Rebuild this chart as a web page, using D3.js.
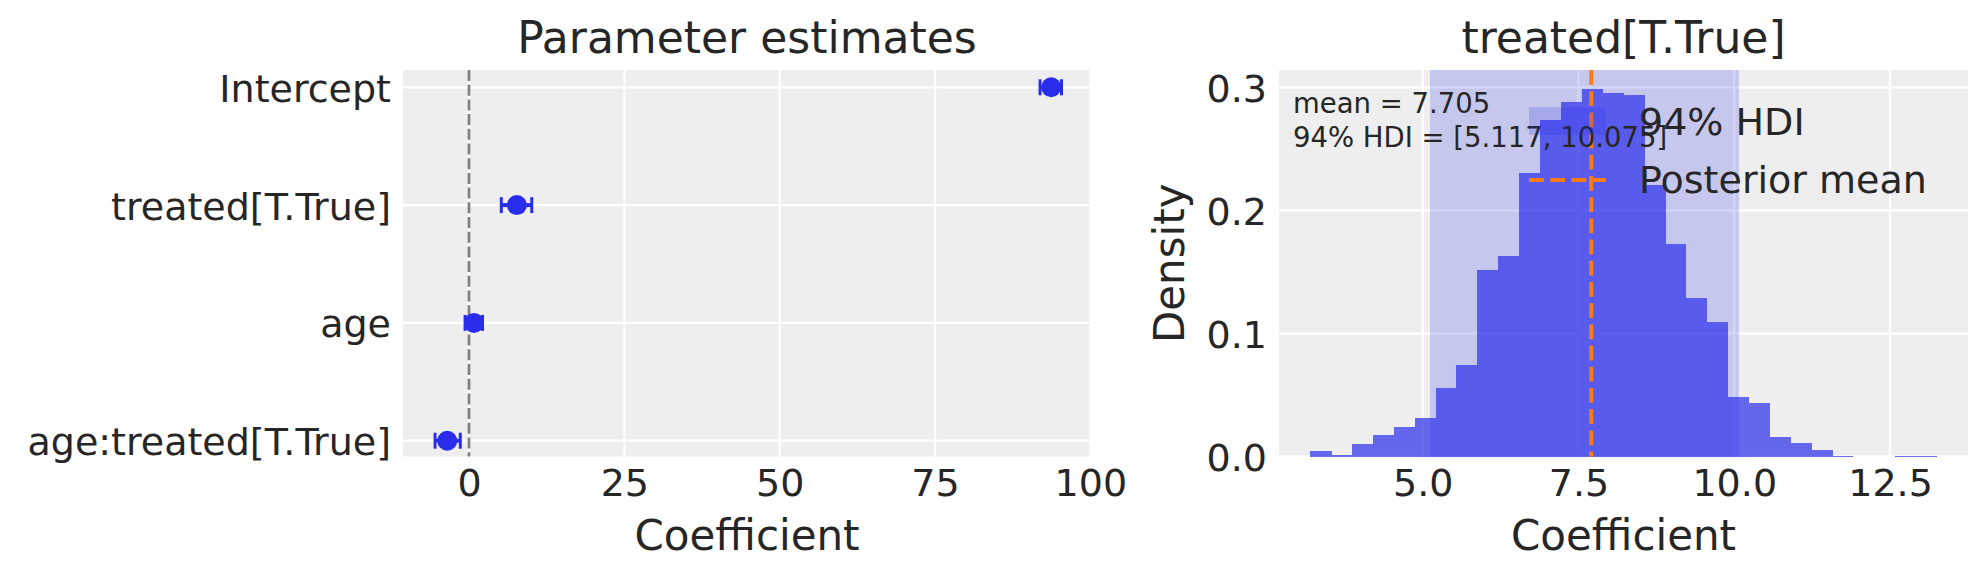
<!DOCTYPE html>
<html>
<head>
<meta charset="utf-8">
<script src="https://cdn.jsdelivr.net/npm/d3@7"></script>
<style>
  body { margin: 0; background: #fff; }
  svg { display: block; font-family: "DejaVu Sans", sans-serif; }
</style>
</head>
<body>
<div id="chart"></div>
<script>
// Forest plot values
var params = ["Intercept", "treated[T.True]", "age", "age:treated[T.True]"];
var paramMean = [93.7, 7.705, 0.8, -3.5];
var paramLow = [91.9, 5.2, -0.63, -5.46];
var paramHigh = [95.35, 10.1, 2.17, -1.4];
var forestTicks = [0, 25, 50, 75, 100];

// Posterior histogram for treated[T.True]
var binEdges = [3.195, 3.53, 3.865, 4.2, 4.535, 4.87, 5.205, 5.54, 5.875, 6.21, 6.545,
    6.88, 7.215, 7.55, 7.885, 8.22, 8.555, 8.89, 9.225, 9.56, 9.895,
    10.23, 10.565, 10.9, 11.235, 11.57, 11.905, 12.24, 12.575, 12.91, 13.245];
var binDensity = [0.0046, 0.0014, 0.0103, 0.0176, 0.0241, 0.0314, 0.0557, 0.0743, 0.1514, 0.1627,
    0.230, 0.2738, 0.2884, 0.2989, 0.2957, 0.294, 0.2203, 0.1724, 0.1286, 0.1092,
    0.0484, 0.0435, 0.0159, 0.0111, 0.0054, 0.0008, 0, 0, 0.0008, 0.0008];
var postMean = 7.705;
var hdi = [5.117, 10.075];
var histXTicks = [5.0, 7.5, 10.0, 12.5];
var histYTicks = [0.0, 0.1, 0.2, 0.3];

var C0 = "#2a2eec", C1 = "#fa7c17", textColor = "#262626", bg = "#eeeeee";

var W = 1988, H = 579;
var svg = d3.select("#chart").append("svg").attr("width", W).attr("height", H);

// ---------- left panel: parameter estimates ----------
var L = {x0: 403, x1: 1091, y0: 70, y1: 456.5};
var xL = d3.scaleLinear().domain([-10.62, 100.1]).range([L.x0, L.x1]);
var yL = d3.scalePoint().domain(params).range([87.3, 440.7]);

var gL = svg.append("g");
gL.append("rect").attr("x", L.x0).attr("y", L.y0)
    .attr("width", L.x1 - L.x0).attr("height", L.y1 - L.y0).attr("fill", bg);

// grid
gL.selectAll(".vgrid").data(forestTicks).join("line")
    .attr("x1", d => xL(d)).attr("x2", d => xL(d))
    .attr("y1", L.y0).attr("y2", L.y1)
    .attr("stroke", "#fff").attr("stroke-width", 2.2);
gL.selectAll(".hgrid").data(params).join("line")
    .attr("x1", L.x0).attr("x2", L.x1)
    .attr("y1", d => yL(d)).attr("y2", d => yL(d))
    .attr("stroke", "#fff").attr("stroke-width", 2.2);

// reference line at zero
gL.append("line")
    .attr("x1", xL(0)).attr("x2", xL(0)).attr("y1", L.y0).attr("y2", L.y1)
    .attr("stroke", "#808080").attr("stroke-width", 2.7)
    .attr("stroke-dasharray", "11,3.7");

// error bars + points
var rows = params.map((p, i) => ({p: p, m: paramMean[i], lo: paramLow[i], hi: paramHigh[i]}));
var eb = gL.selectAll(".eb").data(rows).join("g");
eb.append("line")
    .attr("x1", d => xL(d.lo)).attr("x2", d => xL(d.hi))
    .attr("y1", d => yL(d.p)).attr("y2", d => yL(d.p))
    .attr("stroke", C0).attr("stroke-width", 4);
eb.append("line")
    .attr("x1", d => xL(d.lo)).attr("x2", d => xL(d.lo))
    .attr("y1", d => yL(d.p) - 8).attr("y2", d => yL(d.p) + 8)
    .attr("stroke", C0).attr("stroke-width", 3);
eb.append("line")
    .attr("x1", d => xL(d.hi)).attr("x2", d => xL(d.hi))
    .attr("y1", d => yL(d.p) - 8).attr("y2", d => yL(d.p) + 8)
    .attr("stroke", C0).attr("stroke-width", 3);
eb.append("circle")
    .attr("cx", d => xL(d.m)).attr("cy", d => yL(d.p)).attr("r", 10)
    .attr("fill", C0);

// axes
var axL = gL.append("g").attr("transform", "translate(0," + L.y1 + ")")
    .call(d3.axisBottom(xL).tickValues(forestTicks).tickSize(0).tickPadding(12.5));
var ayL = gL.append("g").attr("transform", "translate(" + L.x0 + ",0)")
    .call(d3.axisLeft(yL).tickSize(0).tickPadding(12));
[axL, ayL].forEach(function(a) {
    a.select(".domain").remove();
    a.selectAll("text").attr("font-size", 38).attr("fill", textColor)
        .attr("font-family", "DejaVu Sans");
});
ayL.selectAll("text").attr("dy", "0.37em");

gL.append("text").attr("x", (L.x0 + L.x1) / 2).attr("y", 53.3)
    .attr("text-anchor", "middle").attr("font-size", 44).attr("fill", textColor)
    .text("Parameter estimates");
gL.append("text").attr("x", (L.x0 + L.x1) / 2).attr("y", 550)
    .attr("text-anchor", "middle").attr("font-size", 42).attr("fill", textColor)
    .text("Coefficient");

// ---------- right panel: posterior of treated[T.True] ----------
var R = {x0: 1279, x1: 1968, y0: 70, y1: 456.5};
var xR = d3.scaleLinear().domain([2.693, 13.752]).range([R.x0, R.x1]);
var yR = d3.scaleLinear().domain([0, 0.3]).range([R.y1, 87.3]);

var gR = svg.append("g");
gR.append("rect").attr("x", R.x0).attr("y", R.y0)
    .attr("width", R.x1 - R.x0).attr("height", R.y1 - R.y0).attr("fill", bg);

gR.selectAll(".vgrid").data(histXTicks).join("line")
    .attr("x1", d => xR(d)).attr("x2", d => xR(d))
    .attr("y1", R.y0).attr("y2", R.y1)
    .attr("stroke", "#fff").attr("stroke-width", 2.2);
gR.selectAll(".hgrid").data(histYTicks).join("line")
    .attr("x1", R.x0).attr("x2", R.x1)
    .attr("y1", d => yR(d)).attr("y2", d => yR(d))
    .attr("stroke", "#fff").attr("stroke-width", 2.2);

// HDI band
gR.append("rect")
    .attr("x", xR(hdi[0])).attr("width", xR(hdi[1]) - xR(hdi[0]))
    .attr("y", R.y0).attr("height", R.y1 - R.y0)
    .attr("fill", C0).attr("opacity", 0.2);

// histogram (drawn opaque inside a translucent group so bars don't seam)
var bins = binDensity.map((d, i) => ({x0: binEdges[i], x1: binEdges[i + 1], d: d}));
gR.append("g").attr("opacity", 0.7)
  .selectAll("rect").data(bins).join("rect")
    .attr("x", d => xR(d.x0)).attr("width", d => xR(d.x1) - xR(d.x0) + 0.5)
    .attr("y", d => yR(d.d)).attr("height", d => yR(0) - yR(d.d))
    .attr("shape-rendering", "crispEdges")
    .attr("fill", C0);

// posterior mean
gR.append("line")
    .attr("x1", xR(postMean)).attr("x2", xR(postMean))
    .attr("y1", R.y0).attr("y2", R.y1)
    .attr("stroke", C1).attr("stroke-width", 4)
    .attr("stroke-dasharray", "14.8,6.4");

// axes
var axR = gR.append("g").attr("transform", "translate(0," + R.y1 + ")")
    .call(d3.axisBottom(xR).tickValues(histXTicks).tickFormat(d3.format(".1f"))
        .tickSize(0).tickPadding(12.5));
var ayR = gR.append("g").attr("transform", "translate(" + R.x0 + ",0)")
    .call(d3.axisLeft(yR).tickValues(histYTicks).tickFormat(d3.format(".1f"))
        .tickSize(0).tickPadding(12));
[axR, ayR].forEach(function(a) {
    a.select(".domain").remove();
    a.selectAll("text").attr("font-size", 38).attr("fill", textColor)
        .attr("font-family", "DejaVu Sans");
});
ayR.selectAll("text").attr("dy", "0.37em");

// stats text
gR.append("text").attr("x", 1293).attr("y", 113.3)
    .attr("font-size", 27.5).attr("fill", textColor)
    .text("mean = " + d3.format(".3f")(postMean));
gR.append("text").attr("x", 1293).attr("y", 146.7)
    .attr("font-size", 27.5).attr("fill", textColor)
    .text("94% HDI = [" + d3.format(".3f")(hdi[0]) + ", " + d3.format(".3f")(hdi[1]) + "]");

// legend
var lg = gR.append("g");
lg.append("rect").attr("x", 1529).attr("y", 107.3).attr("width", 77).attr("height", 27.7)
    .attr("fill", C0).attr("opacity", 0.2);
lg.append("line").attr("x1", 1529).attr("x2", 1606).attr("y1", 180).attr("y2", 180)
    .attr("stroke", C1).attr("stroke-width", 4).attr("stroke-dasharray", "14.8,6.4");
lg.append("text").attr("x", 1639).attr("y", 135)
    .attr("font-size", 38).attr("fill", textColor).text("94% HDI");
lg.append("text").attr("x", 1639).attr("y", 193.3)
    .attr("font-size", 38).attr("fill", textColor).text("Posterior mean");

gR.append("text").attr("x", (R.x0 + R.x1) / 2).attr("y", 53.3)
    .attr("text-anchor", "middle").attr("font-size", 44).attr("fill", textColor)
    .text("treated[T.True]");
gR.append("text").attr("x", (R.x0 + R.x1) / 2).attr("y", 550)
    .attr("text-anchor", "middle").attr("font-size", 42).attr("fill", textColor)
    .text("Coefficient");
gR.append("text")
    .attr("transform", "translate(1184," + (R.y0 + R.y1) / 2 + ") rotate(-90)")
    .attr("text-anchor", "middle").attr("font-size", 42).attr("fill", textColor)
    .text("Density");
</script>
</body>
</html>
